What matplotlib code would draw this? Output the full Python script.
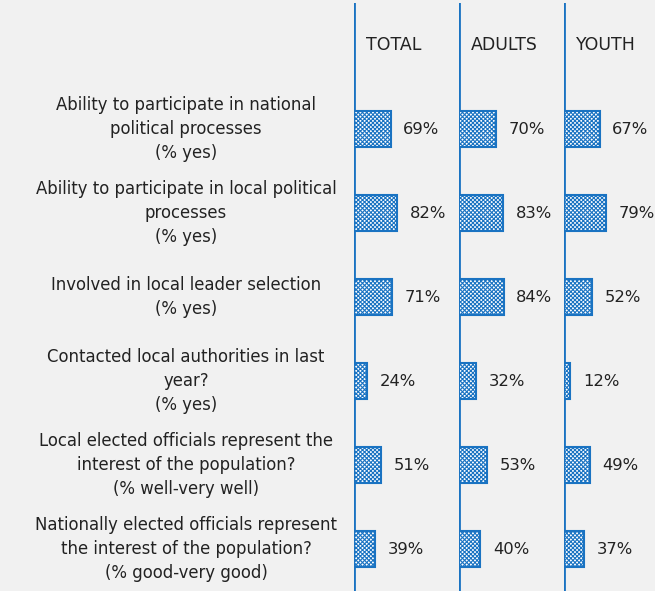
import matplotlib
matplotlib.use('Agg')
from matplotlib import pyplot as plt
from matplotlib.transforms import blended_transform_factory

groups = ['TOTAL', 'ADULTS', 'YOUTH']
questions = [
    'Ability to participate in national\npolitical processes\n(% yes)',
    'Ability to participate in local political\nprocesses\n(% yes)',
    'Involved in local leader selection\n(% yes)',
    'Contacted local authorities in last\nyear?\n(% yes)',
    'Local elected officials represent the\ninterest of the population?\n(% well-very well)',
    'Nationally elected officials represent\nthe interest of the population?\n(% good-very good)',
]
total = [69, 82, 71, 24, 51, 39]
adults = [70, 83, 84, 32, 53, 40]
youth = [67, 79, 52, 12, 49, 37]
values = [total, adults, youth]

bg = '#f1f1f1'
blue = '#1a73c2'
plt.rcParams['hatch.linewidth'] = 0.8

W, H = 655, 591
fig = plt.figure(figsize=(W / 100, H / 100), dpi=100)
fig.patch.set_facecolor(bg)

col_w = 105
top = 3
axes = []
for i, (g, vals) in enumerate(zip(groups, values)):
    ax = fig.add_axes([(354 + col_w * i) / W, 0, col_w / W, (H - top) / H])
    ax.set_facecolor(bg)
    ax.set_xlim(0, 198)
    ax.set_ylim(5.5, -1.5)
    for s in ax.spines.values():
        s.set_visible(False)
    ax.axvline(0, color=blue, lw=2)
    ax.set_xticks([])
    ax.set_yticks([])
    ys = list(range(len(vals)))
    ax.barh(ys, vals, height=0.42, left=0, color='white', edgecolor=blue,
            hatch='xxxxxxxx', linewidth=1.5, zorder=3)
    for y, v in zip(ys, vals):
        ax.text(v + 24, y, f'{v}%', va='center', ha='left', fontsize=11.8,
                color='#222222')
    ax.text(22, -1, g, va='center', ha='left', fontsize=12.5, color='#222222')
    axes.append(ax)

tr = blended_transform_factory(fig.transFigure, axes[0].transData)
for y, q in enumerate(questions):
    axes[0].text(186 / W, y, q, transform=tr, ha='center', va='center',
                 fontsize=11.9, color='#222222', linespacing=1.45, clip_on=False)

fig.savefig('out.png', dpi=100, facecolor=bg)
